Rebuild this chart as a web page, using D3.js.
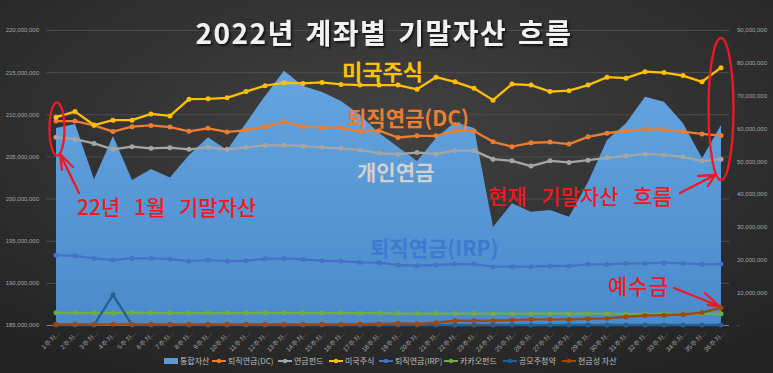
<!DOCTYPE html>
<html><head><meta charset="utf-8">
<script src="https://cdn.jsdelivr.net/npm/d3@7"></script>
<style>
html,body{margin:0;padding:0;background:#2a2a2a;}
svg{display:block;font-family:"Noto Sans CJK KR","Noto Sans",sans-serif;}
</style></head>
<body>
<svg id="c" width="773" height="373"></svg>
<script>
const categories = d3.range(1, 37).map(i => i + "주차");
const totalAssets = [208.37,208.85,202.29,207.41,202.20,203.51,202.50,205.17,207.27,205.76,208.97,212.17,215.17,213.36,212.64,211.58,209.92,207.78,206.12,204.46,207.19,209.09,208.38,196.63,199.44,198.44,198.64,197.85,201.97,206.95,208.93,212.09,211.49,208.93,204.78,208.73].map(v => v * 1e6);
const pensionDC = [62.2,62.2,60.9,59.0,60.5,60.9,60.4,59.1,60.0,58.9,59.4,60.5,62.0,60.5,60.2,60.2,59.0,59.3,57.2,57.7,57.7,59.2,59.2,55.9,54.4,55.6,55.8,55.2,57.4,58.5,59.3,59.7,59.7,59.0,58.3,57.8].map(v => v * 1e6);
const pensionFund = [57.3,56.7,55.4,53.6,54.4,53.9,54.1,53.6,54.2,53.6,54.2,54.8,54.9,54.6,54.2,53.9,53.4,52.4,52.1,52.6,52.2,53.2,53.2,50.6,50.1,48.5,50.1,49.6,50.3,51.0,51.6,52.2,51.9,51.3,50.0,50.6].map(v => v * 1e6);
const usStocks = [63.4,65.1,61.0,62.5,62.5,64.4,63.8,68.9,69.0,69.3,71.2,73.0,73.9,73.7,74.0,73.4,73.2,73.2,73.2,71.9,75.6,74.2,72.2,68.6,73.5,73.2,71.2,71.5,73.2,75.6,75.3,77.3,77.0,76.1,74.2,78.5].map(v => v * 1e6);
const pensionIRP = [21.3,21.1,20.3,19.8,20.3,20.3,20.1,19.5,19.8,19.5,19.6,20.2,20.3,20.0,19.6,19.5,19.1,19.0,18.3,18.1,18.3,18.6,18.6,17.8,17.8,17.8,18.0,18.0,18.5,18.5,18.8,18.8,19.0,18.8,18.5,18.6].map(v => v * 1e6);
const kakaoFund = [3.75,3.7,3.65,3.65,3.75,3.7,3.65,3.6,3.65,3.65,3.65,3.7,3.7,3.65,3.65,3.65,3.6,3.6,3.5,3.5,3.5,3.5,3.5,3.45,3.45,3.45,3.45,3.45,3.45,3.45,3.4,3.4,3.4,3.4,3.4,3.4].map(v => v * 1e6);
const ipoSubs = [0,0,0,9.2,0,0,0,0,0,0,0,0,0,0,0,0,0,0,0,0,0,0,0,0,0,0,0,0,0,0,0,0,0,0,0,0].map(v => v * 1e6);
const cashAssets = [0.2,0.2,0.2,0.2,0.2,0.2,0.2,0.2,0.2,0.2,0.2,0.2,0.2,0.2,0.2,0.2,0.3,0.3,0.5,0.3,0.7,1.3,1.3,1.3,1.5,1.7,1.7,1.7,1.9,2.0,2.5,2.9,3.0,3.2,3.8,5.3].map(v => v * 1e6);
const leftTicks = [185e6,190e6,195e6,200e6,205e6,210e6,215e6,220e6];
const rightTicks = [0,10e6,20e6,30e6,40e6,50e6,60e6,70e6,80e6,90e6];
const lineSeries = [
  {name:"퇴직연금(DC)", values:pensionDC, color:"#ed7d31"},
  {name:"연금펀드", values:pensionFund, color:"#a5a5a5"},
  {name:"미국주식", values:usStocks, color:"#ffc000"},
  {name:"퇴직연금(IRP)", values:pensionIRP, color:"#4472c4"},
  {name:"카카오펀드", values:kakaoFund, color:"#70ad47"},
  {name:"공모주청약", values:ipoSubs, color:"#255e91"},
  {name:"현금성 자산", values:cashAssets, color:"#9e480e"}
];

const svg = d3.select("#c");
const W = 773, H = 373;
const defs = svg.append("defs");
const bg = defs.append("radialGradient").attr("id","bg").attr("cx","50%").attr("cy","35%").attr("r","75%");
bg.append("stop").attr("offset","0%").attr("stop-color","#424242");
bg.append("stop").attr("offset","100%").attr("stop-color","#232323");
const ag = defs.append("linearGradient").attr("id","ag").attr("x1",0).attr("y1",0).attr("x2",0).attr("y2",1);
ag.append("stop").attr("offset","0%").attr("stop-color","#64a5e0");
ag.append("stop").attr("offset","100%").attr("stop-color","#4b8acb");
const sh = defs.append("filter").attr("id","sh").attr("x","-10%").attr("y","-30%").attr("width","130%").attr("height","180%");
sh.append("feDropShadow").attr("dx",1.5).attr("dy",1.5).attr("stdDeviation",1.2).attr("flood-color","#000").attr("flood-opacity",0.8);

svg.append("rect").attr("width",W).attr("height",H).attr("fill","url(#bg)");

const x = d3.scaleBand().domain(categories).range([46.5, 730.5]).padding(0);
const cx = d => x(d) + x.bandwidth()/2;
const yL = d3.scaleLinear().domain([185e6, 220e6]).range([325, 30]);
const yR = d3.scaleLinear().domain([0, 90e6]).range([325, 30]);

// gridlines
svg.append("g").selectAll("line").data(leftTicks.filter(t => t > 185e6)).join("line")
  .attr("x1", 46.5).attr("x2", 729).attr("y1", d => yL(d)+0.5).attr("y2", d => yL(d)+0.5)
  .attr("stroke","#4d4d4d").attr("stroke-width",1);

// left axis
const gl = svg.append("g").attr("transform","translate(39,0)")
  .call(d3.axisLeft(yL).tickValues(leftTicks).tickSize(0).tickPadding(0).tickFormat(d3.format(",")));
gl.select(".domain").remove();
gl.selectAll("text").attr("fill","#a6a6a6").attr("font-size","6px").attr("font-family","Liberation Sans, Arial, sans-serif");

// right axis
const gr = svg.append("g").attr("transform","translate(737,0)")
  .call(d3.axisRight(yR).tickValues(rightTicks).tickSize(0).tickPadding(0).tickFormat(d => d === 0 ? "-" : d3.format(",")(d)));
gr.select(".domain").remove();
gr.selectAll("text").attr("fill","#a6a6a6").attr("font-size","6px").attr("font-family","Liberation Sans, Arial, sans-serif");

// area
const area = d3.area().x((d,i) => cx(categories[i])).y0(yL(185e6)).y1(d => yL(d));
svg.append("path").datum(totalAssets).attr("d", area).attr("fill","url(#ag)");

// x axis line
svg.append("line").attr("x1",46.5).attr("x2",729).attr("y1",325.5).attr("y2",325.5).attr("stroke","#7f7f7f").attr("stroke-width",1);

// lines
const line = d3.line().x((d,i) => cx(categories[i])).y(d => yR(d));
lineSeries.forEach(s => {
  const g = svg.append("g");
  g.append("path").datum(s.values).attr("d", line).attr("fill","none").attr("stroke", s.color).attr("stroke-width",2.3).attr("stroke-linejoin","round");
  g.selectAll("circle").data(s.values).join("circle")
    .attr("cx",(d,i) => cx(categories[i])).attr("cy", d => yR(d)).attr("r",2.5).attr("fill", s.color);
});

// x axis labels
const gx = svg.append("g").attr("transform","translate(0,330)")
  .call(d3.axisBottom(x).tickSize(0).tickPadding(0).tickFormat(d => d + "..."));
gx.select(".domain").remove();
gx.selectAll("text").attr("fill","#a6a6a6").attr("font-size","6.5px")
  .attr("text-anchor","end").attr("dy","0.3em").attr("dx","0")
  .attr("transform","translate(3,2) rotate(-45)");

// title
svg.append("text").attr("x",384).attr("y",44).attr("text-anchor","middle")
  .attr("font-size","28px").attr("font-weight","bold").attr("letter-spacing","1.5px").attr("word-spacing","3px")
  .attr("fill","#f2f2f2").attr("filter","url(#sh)")
  .text("2022년 계좌별 기말자산 흐름");

// series labels
const labels = [
  {t:"미국주식", x:342, y:80, c:"#ffc000", s:22},
  {t:"퇴직연금(DC)", x:347, y:126, c:"#ed7d31", s:21},
  {t:"개인연금", x:357, y:180, c:"#d0d0d0", s:21},
  {t:"퇴직연금(IRP)", x:370, y:256, c:"#3b7bd2", s:21}
];
labels.forEach(l => svg.append("text").attr("x",l.x).attr("y",l.y).attr("fill",l.c)
  .attr("font-size",l.s+"px").attr("font-weight",600).text(l.t));

// annotations
const red = "#f01822";
const ann = svg.append("g").attr("fill","none").attr("stroke",red).attr("stroke-width",2.3).attr("stroke-linecap","round").attr("stroke-linejoin","round");
ann.append("ellipse").attr("cx",57).attr("cy",129).attr("rx",7.5).attr("ry",26.5);
ann.append("ellipse").attr("cx",721).attr("cy",109).attr("rx",12.5).attr("ry",71);
ann.append("path").attr("d","M79,193 L60,154 M73,167 L60,154 L62,170");
ann.append("path").attr("d","M680,193 L715,175 M698,176 L715,175 L708,186");
ann.append("path").attr("d","M674,288 L719,306 M705,293 L719,306 L708,305");
const annText = [
  {t:"22년 1월 기말자산", x:77, y:215, s:21, ws:9, ls:0},
  {t:"현재 기말자산 흐름", x:488, y:204, s:21, ws:10, ls:0},
  {t:"예수금", x:608, y:294, s:21, ws:0, ls:1}
];
annText.forEach(a => svg.append("text").attr("x",a.x).attr("y",a.y).attr("fill",red)
  .attr("font-size",a.s+"px").attr("font-weight",500).attr("word-spacing",a.ws+"px").attr("letter-spacing",a.ls+"px").text(a.t));

// legend
const legendItems = [{name:"통합자산", color:"#5b9bd5", area:true}].concat(lineSeries);
const legendX = [164, 212, 278, 329, 379, 444, 503, 562];
const lg = svg.append("g");
legendItems.forEach((it,i) => {
  const g = lg.append("g").attr("transform",`translate(${legendX[i]},361)`);
  if (it.area) {
    g.append("rect").attr("x",0).attr("y",-3).attr("width",14).attr("height",6).attr("fill",it.color);
  } else {
    g.append("line").attr("x1",0).attr("x2",14).attr("y1",0).attr("y2",0).attr("stroke",it.color).attr("stroke-width",2);
    g.append("circle").attr("cx",7).attr("cy",0).attr("r",2.2).attr("fill",it.color);
  }
  g.append("text").attr("x",16).attr("y",0).attr("dy","0.35em").attr("fill","#bfbfbf").attr("font-size","8px").text(it.name);
});
</script>
</body></html>
